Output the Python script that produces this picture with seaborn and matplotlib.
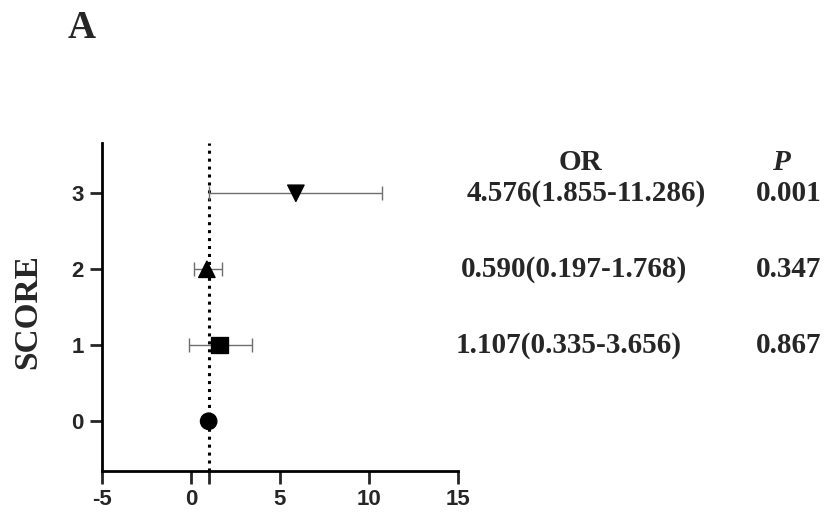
import numpy as np
import pandas as pd
import matplotlib
matplotlib.use("Agg")
import matplotlib.pyplot as plt
import seaborn as sns

# values
scores = [0, 1, 2, 3]
odds_pos = [1.0, 1.6, 0.9, 5.9]
ci_low = [np.nan, -0.1, 0.2, 1.0]
ci_high = [np.nan, 3.45, 1.77, 10.75]
marker_shapes = ["o", "s", "^", "v"]
or_labels = ["", "1.107(0.335-3.656)", "0.590(0.197-1.768)", "4.576(1.855-11.286)"]
p_labels = ["", "0.867", "0.347", "0.001"]
x_ticks = [-5, 0, 1, 5, 10, 15]
x_ticklabels = ["-5", "0", "", "5", "10", "15"]

df = pd.DataFrame({"score": scores, "odds": odds_pos, "lo": ci_low, "hi": ci_high})

sns.set_style("ticks")
plt.rcParams["font.family"] = ["Liberation Sans", "DejaVu Sans"]

fig = plt.figure(figsize=(8.28, 5.13), dpi=100)
ax = fig.add_axes([0.123, 0.0825, 0.430, 0.6385])

# confidence intervals
ci = df.dropna()
ax.errorbar(ci["odds"], ci["score"],
            xerr=[ci["odds"] - ci["lo"], ci["hi"] - ci["odds"]],
            fmt="none", ecolor="#6e6e6e", elinewidth=1.0, capsize=5, capthick=1.0, zorder=2)

# reference line at OR = 1
ax.axvline(1, color="black", linestyle=(0, (1, 1.6)), linewidth=2.2, zorder=1)

sns.scatterplot(data=df, x="odds", y="score", style="score",
                markers=dict(zip(scores, marker_shapes)), s=140,
                color="black", edgecolor="black", legend=False, ax=ax, zorder=3)

ax.set_xlim(-5, 15)
ax.set_ylim(-0.65, 3.66)
ax.set_xticks(x_ticks)
ax.set_xticklabels(x_ticklabels)
ax.set_yticks(scores)
ax.set_xlabel("")
ax.set_ylabel("")
ax.tick_params(axis="both", width=2, length=9, labelsize=16, pad=4)
for lab in ax.get_xticklabels() + ax.get_yticklabels():
    lab.set_fontweight("bold")
sns.despine(ax=ax)
for sp in ["left", "bottom"]:
    ax.spines[sp].set_linewidth(2)
    ax.spines[sp].set_color("black")

serif = "Liberation Serif"
fig.text(28 / 828, 1 - 312 / 513, "SCORE", rotation=90, ha="center", va="center",
         fontsize=24, fontweight="bold", family=serif)

# OR / P table to the right
txt = dict(ha="center", va="center", fontsize=21, fontweight="bold", family=serif, clip_on=False)
ax.text(21.9, 3.41, "OR", **txt)
ax.text(33.15, 3.41, "P", style="italic", **txt)
or_x = [0, 21.2, 21.5, 22.2]
for s, orl, pl, ox in zip(scores, or_labels, p_labels, or_x):
    if not orl:
        continue
    ax.text(ox, s, orl, **txt)
    ax.text(33.6, s, pl, **txt)

fig.text(82 / 828, 1 - 29 / 513, "A", ha="center", va="center", fontsize=28,
         fontweight="bold", family=serif)

fig.savefig("out.png", dpi=100)
